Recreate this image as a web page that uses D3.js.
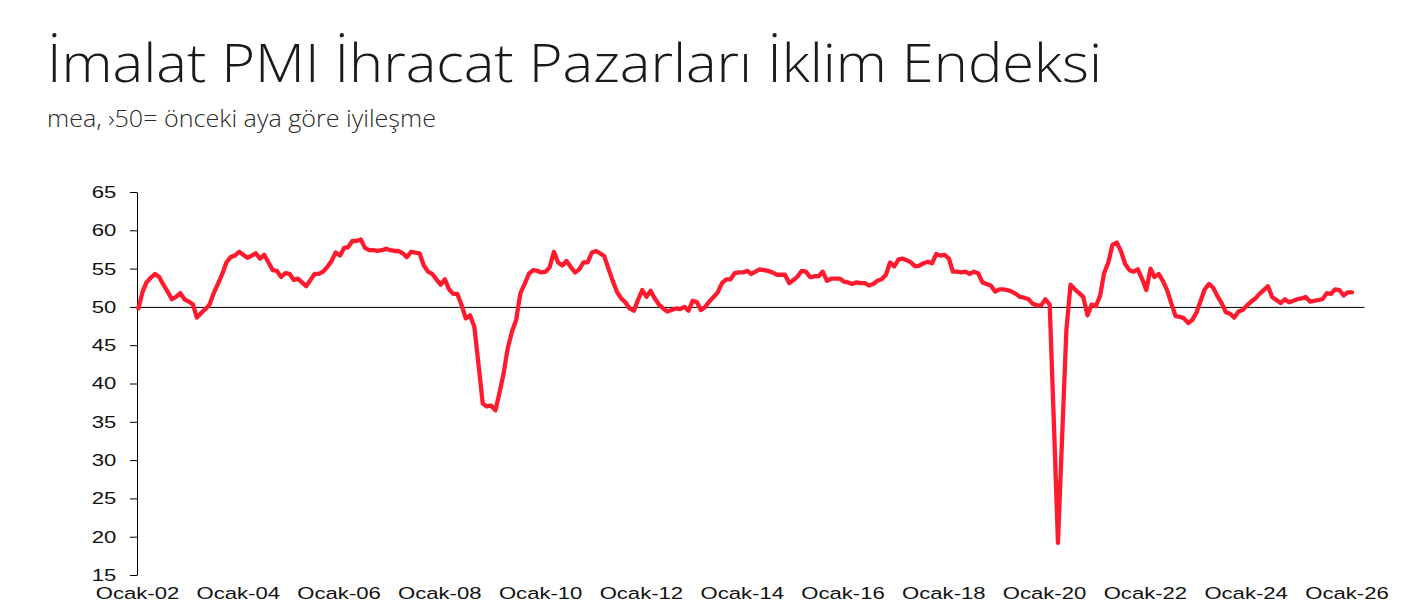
<!DOCTYPE html>
<html>
<head>
<meta charset="utf-8">
<script src="https://cdn.jsdelivr.net/npm/d3@7"></script>
<style>
    body { margin: 0; background: #fff; }
    text { font-family: "Liberation Sans", Arial, sans-serif; }
    .title { font-family: "Open Sans", "Noto Sans", sans-serif; font-weight: 300; }
</style>
</head>
<body>
<div id="chart"></div>
<script>
// Data (monthly, starting Ocak 2002)
const startMonth = new Date(2002, 0, 1);
const v2002 = [49.8, 52.0, 53.2, 53.8, 54.3, 53.9, 52.9, 52.0, 51.0, 51.3, 51.8, 51.0];
const v2003 = [50.7, 50.3, 48.6, 49.2, 49.7, 50.3, 51.8, 53.0, 54.3, 55.8, 56.5, 56.7];
const v2004 = [57.2, 56.8, 56.4, 56.7, 57.0, 56.3, 56.8, 55.8, 54.8, 54.7, 53.9, 54.4];
const v2005 = [54.3, 53.5, 53.7, 53.2, 52.7, 53.5, 54.3, 54.3, 54.6, 55.2, 56.0, 57.1];
const v2006 = [56.7, 57.7, 57.8, 58.6, 58.6, 58.8, 57.7, 57.4, 57.4, 57.3, 57.4, 57.6];
const v2007 = [57.4, 57.3, 57.3, 57.0, 56.5, 57.2, 57.1, 57.0, 55.4, 54.6, 54.3, 53.6];
const v2008 = [52.9, 53.6, 52.3, 51.7, 51.7, 50.2, 48.5, 48.9, 47.4, 42.5, 37.4, 37.0];
const v2009 = [37.1, 36.5, 38.7, 41.3, 44.6, 46.8, 48.3, 51.8, 53.0, 54.3, 54.8, 54.7];
const v2010 = [54.5, 54.6, 55.2, 57.2, 55.8, 55.4, 56.0, 55.2, 54.5, 54.9, 55.8, 55.8];
const v2011 = [57.1, 57.3, 57.0, 56.6, 55.0, 53.4, 52.0, 51.1, 50.6, 49.8, 49.5, 50.9];
const v2012 = [52.2, 51.3, 52.1, 51.1, 50.3, 49.8, 49.4, 49.6, 49.8, 49.7, 50.0, 49.5];
const v2013 = [50.8, 50.6, 49.6, 50.0, 50.7, 51.3, 51.9, 53.1, 53.6, 53.6, 54.4, 54.5];
const v2014 = [54.5, 54.7, 54.3, 54.6, 54.9, 54.8, 54.7, 54.5, 54.2, 54.2, 54.2, 53.1];
const v2015 = [53.5, 54.0, 54.7, 54.6, 53.9, 54.0, 54.0, 54.6, 53.4, 53.7, 53.7, 53.7];
const v2016 = [53.3, 53.2, 53.0, 53.2, 53.1, 53.1, 52.8, 53.0, 53.4, 53.6, 54.2, 55.8];
const v2017 = [55.3, 56.2, 56.3, 56.1, 55.8, 55.3, 55.4, 55.7, 55.9, 55.7, 56.9, 56.7];
const v2018 = [56.8, 56.3, 54.6, 54.6, 54.5, 54.6, 54.3, 54.6, 54.4, 53.2, 53.0, 52.8];
const v2019 = [52.0, 52.3, 52.3, 52.2, 52.0, 51.7, 51.3, 51.2, 51.0, 50.4, 50.2, 50.2];
const v2020 = [51.0, 50.3, 35.5, 19.2, 33.0, 47.0, 52.9, 52.3, 51.8, 51.3, 48.9, 50.3];
const v2021 = [50.1, 51.5, 54.4, 55.8, 58.1, 58.4, 57.3, 55.6, 54.8, 54.6, 54.9, 53.7];
const v2022 = [52.2, 55.0, 53.9, 54.3, 53.4, 52.2, 50.5, 48.8, 48.7, 48.5, 47.9, 48.3];
const v2023 = [49.3, 50.9, 52.3, 53.0, 52.5, 51.4, 50.5, 49.3, 49.1, 48.6, 49.4, 49.6];
const v2024 = [50.2, 50.7, 51.1, 51.7, 52.2, 52.7, 51.3, 50.9, 50.5, 51.0, 50.6, 50.8];
const v2025 = [51.0, 51.1, 51.3, 50.7, 50.8, 50.9, 51.0, 51.8, 51.7, 52.3, 52.2, 51.5];
const v2026 = [51.9, 51.9];

const yTicks = [15, 20, 25, 30, 35, 40, 45, 50, 55, 60, 65];
const xTickYears = [2002, 2004, 2006, 2008, 2010, 2012, 2014, 2016, 2018, 2020, 2022, 2024, 2026];

const titleText = "İmalat PMI İhracat Pazarları İklim Endeksi";
const subtitleText = "mea, ›50= önceki aya göre iyileşme";

// Build monthly series (points sit a little into each month)
const values = [].concat(v2002, v2003, v2004, v2005, v2006, v2007, v2008, v2009, v2010,
    v2011, v2012, v2013, v2014, v2015, v2016, v2017, v2018, v2019, v2020, v2021,
    v2022, v2023, v2024, v2025, v2026);
const series = values.map((v, i) => ({
    date: d3.timeDay.offset(d3.timeMonth.offset(startMonth, i), 10),
    value: v
}));

const width = 1428, height = 607;
const stretch = 1.3; // tick labels appear horizontally stretched

const svg = d3.select("#chart").append("svg")
    .attr("width", width)
    .attr("height", height);

// Scales
const x = d3.scaleTime()
    .domain([startMonth, new Date(2026, 4, 8)])
    .range([137, 1364]);

const y = d3.scaleLinear()
    .domain([15, 65])
    .range([575, 192]);

// Title and subtitle
svg.append("text")
    .attr("class", "title")
    .attr("x", 47)
    .attr("y", 82)
    .attr("font-size", 53)
    .attr("fill", "#1a1a1a")
    .attr("textLength", 1055)
    .attr("lengthAdjust", "spacingAndGlyphs")
    .text(titleText);

svg.append("text")
    .attr("class", "title")
    .attr("x", 47)
    .attr("y", 127)
    .attr("font-size", 23)
    .attr("fill", "#2a2a2a")
    .attr("textLength", 389)
    .attr("lengthAdjust", "spacingAndGlyphs")
    .text(subtitleText);

// Y axis
const yAxis = svg.append("g")
    .attr("transform", "translate(137,0)")
    .call(d3.axisLeft(y).tickValues(yTicks).tickSize(7).tickSizeOuter(0).tickPadding(9));
yAxis.select(".domain").attr("stroke", "#000");
yAxis.selectAll("text")
    .attr("font-size", 17)
    .attr("fill", "#111")
    .attr("transform", `scale(${stretch},1)`);

// Horizontal axis line crossing at 50
svg.append("g")
    .attr("transform", `translate(0,${y(50)})`)
    .call(d3.axisBottom(x).tickValues([]).tickSizeOuter(0))
    .select(".domain").attr("stroke", "#000");

// X labels at the bottom
const xAxis = svg.append("g")
    .attr("transform", "translate(0,575)")
    .call(d3.axisBottom(x)
        .tickValues(xTickYears.map(yr => new Date(yr, 0, 1)))
        .tickSize(0)
        .tickPadding(12)
        .tickFormat(d => "Ocak-" + d3.timeFormat("%y")(d)));
xAxis.select(".domain").remove();
xAxis.selectAll("text")
    .attr("font-size", 17)
    .attr("fill", "#111")
    .attr("transform", `scale(${stretch},1)`);

// Line
const line = d3.line()
    .x(d => x(d.date))
    .y(d => y(d.value));

svg.append("path")
    .datum(series)
    .attr("fill", "none")
    .attr("stroke", "#ff1a2e")
    .attr("stroke-width", 4.3)
    .attr("stroke-linejoin", "round")
    .attr("stroke-linecap", "round")
    .attr("d", line);
</script>
</body>
</html>
